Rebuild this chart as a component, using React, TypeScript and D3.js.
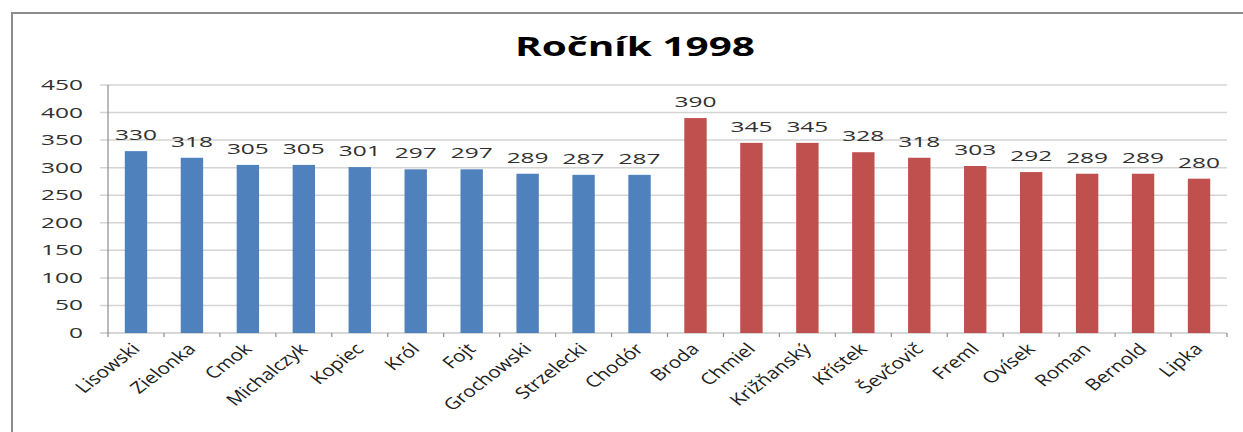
import React from "react";
import * as d3 from "d3";

const names = ["Lisowski","Zielonka","Cmok","Michalczyk","Kopiec","Król","Fojt","Grochowski","Strzelecki","Chodór","Broda","Chmiel","Križňanský","Křístek","Ševčovič","Freml","Ovísek","Roman","Bernold","Lipka"];
const values = [330,318,305,305,301,297,297,289,287,287,390,345,345,328,318,303,292,289,289,280];
const groups = ["A","A","A","A","A","A","A","A","A","A","B","B","B","B","B","B","B","B","B","B"];
const yTicks = [0,50,100,150,200,250,300,350,400,450];
const title = "Ročník 1998";

const colors: Record<string,string> = { A: "#4F81BD", B: "#C0504D" };

export default function App() {
  const W = 1243, H = 432;
  const left = 108, right = 1227, top = 85, bottom = 333;
  const x = d3.scaleBand<string>().domain(names).range([left, right]).paddingInner(0.6).paddingOuter(0.3);
  const y = d3.scaleLinear().domain([0, 450]).range([bottom, top]);
  const step = x.step();
  const font = "'Open Sans', 'DejaVu Sans', sans-serif";
  const sx = 1.3;
  return (
    <svg width={W} height={H} style={{ position: "absolute", left: 0, top: 0, background: "#fff" }} fontFamily={font}>
      <rect x={0} y={0} width={W} height={H} fill="#fff" />
      <rect x={12} y={13} width={W + 20} height={H + 20} fill="none" stroke="#8c8c8c" strokeWidth={2} />
      <text x={635} y={56} textAnchor="middle" fontSize={27} fontWeight="bold" fill="#000" textLength={240} lengthAdjust="spacingAndGlyphs">{title}</text>
      {yTicks.map((t) => (
        <g key={t}>
          <line x1={left - 8} x2={right} y1={y(t)} y2={y(t)} stroke={t === 0 ? "#c8c8c8" : "#d4d4d4"} strokeWidth={1.5} />
          <text x={83} y={y(t) + 5} textAnchor="end" fontSize={14} fill="#303030" textLength={14 * String(t).length} lengthAdjust="spacingAndGlyphs">{t}</text>
        </g>
      ))}
      <line x1={left} x2={left} y1={top} y2={bottom + 4} stroke="#8c8c8c" strokeWidth={1.2} />
      {names.map((n, i) => (
        <line key={"tk" + n} x1={left + step * (i + 1)} x2={left + step * (i + 1)} y1={bottom} y2={bottom + 4} stroke="#8c8c8c" strokeWidth={1.2} />
      ))}
      {names.map((n, i) => (
        <rect key={"b" + n} x={x(n)} y={y(values[i])} width={x.bandwidth()} height={bottom - y(values[i])} fill={colors[groups[i]]} />
      ))}
      {names.map((n, i) => (
        <text key={"v" + n} x={(x(n) as number) + x.bandwidth() / 2} y={y(values[i]) - 11} textAnchor="middle" fontSize={14} fill="#303030" textLength={42} lengthAdjust="spacingAndGlyphs">{values[i]}</text>
      ))}
      {names.map((n) => {
        const cx = (x(n) as number) + x.bandwidth() / 2 + 5;
        return (
          <text key={"l" + n} transform={`translate(${cx},${350}) scale(${sx},1) rotate(-45)`} textAnchor="end" fontSize={16} fill="#202020">{n}</text>
        );
      })}
    </svg>
  );
}
